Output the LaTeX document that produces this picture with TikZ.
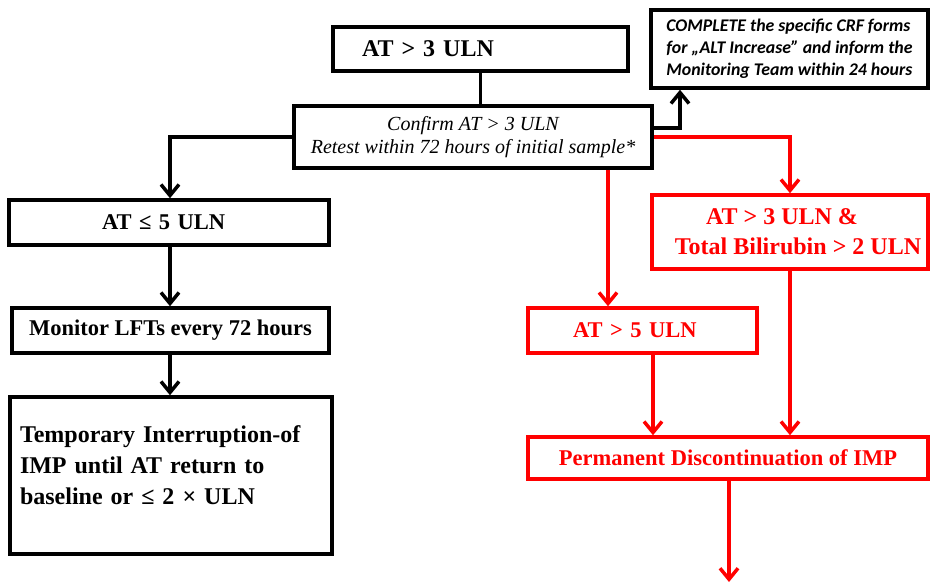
\documentclass[tikz,border=0pt]{standalone}
\usepackage{fontspec}
\setmainfont{Liberation Serif}
\newfontfamily\crffont{Carlito}
\usetikzlibrary{arrows.meta,positioning,calc}
\definecolor{alertred}{RGB}{255,0,0}

\begin{document}
\begin{tikzpicture}[x=1pt, y=-1pt,
    box/.style={draw, line width=3.5pt, inner sep=0pt, minimum height=45pt, align=center,
                font=\fontsize{22.5}{27}\selectfont\bfseries},
    rbox/.style={box, draw=alertred, text=alertred},
    arr/.style={line width=3.5pt, -{Straight Barb[length=11pt,width=18pt]}},
    rarr/.style={arr, draw=alertred},
    link/.style={line width=3.5pt}]
\useasboundingbox (0,0) rectangle (936,582);

% main branch
\node[box, minimum width=295pt, minimum height=44pt, inner xsep=29pt, text width=237pt, align=left,
      font=\fontsize{24}{28}\selectfont\bfseries] (top) at (480.5,49) {AT > 3 ULN};
\node[box, minimum width=358pt, minimum height=62pt,
      font=\fontsize{20}{23}\selectfont\itshape] (confirm) at (473,137)
      {Confirm AT > 3 ULN\\ Retest within 72 hours of initial sample*};
\node[box, minimum width=277pt, minimum height=78pt, align=left,
      font=\fontsize{17.8}{22}\selectfont\crffont\bfseries\itshape] (crf) at (789.5,49)
      {COMPLETE the specific CRF forms\\ for „ALT Increase” and inform the\\ Monitoring Team within 24 hours};

% left (black) path
\node[box, minimum width=320pt, inner xsep=93pt, text width=134pt, align=left] (le5) at (169,222.5) {AT ≤ 5 ULN};
\node[box, minimum width=317pt] (monitor) at (170.5,330.5) {Monitor LFTs every 72 hours};
\node[box, minimum width=322pt, minimum height=157pt, inner xsep=10pt, text width=302pt, align=left,
      font=\fontsize{24}{31}\selectfont\bfseries] (interrupt) at (171,475.5)
      {Temporary Interruption-of\\ IMP until AT return to\\ baseline or ≤ 2 × ULN\\[-10pt]\mbox{}};

% right (red) path
\node[rbox, minimum width=276pt, minimum height=74pt,
      font=\fontsize{24}{30}\selectfont\bfseries] (bili) at (790,232)
      {AT > 3 ULN \&\hspace*{16pt}\\ \hspace*{16pt}Total Bilirubin > 2 ULN};
\node[rbox, minimum width=229pt, inner xsep=45pt, text width=139pt, align=left] (gt5) at (642.5,330.5) {AT > 5 ULN};
\node[rbox, minimum width=400pt, minimum height=42pt] (perm) at (728,458)
      {Permanent Discontinuation of IMP};

\coordinate (leftx) at (170,0);
\coordinate (crfx) at (680,0);
\coordinate (gt5x) at (608,0);
\coordinate (permx) at (653,0);
\coordinate (out) at (729,582);

\draw[link] (top.south) -- (top.south |- confirm.north);
\draw[arr] (confirm.west) -| (leftx |- le5.north);
\draw[arr] ([yshift=9pt]confirm.east) -| (crfx |- crf.south);
\draw[arr] (leftx |- le5.south) -- (leftx |- monitor.north);
\draw[arr] (leftx |- monitor.south) -- (leftx |- interrupt.north);

\draw[rarr] (confirm.east) -| (bili.north);
\draw[rarr] (gt5x |- confirm.south) -- (gt5x |- gt5.north);
\draw[rarr] (permx |- gt5.south) -- (permx |- perm.north);
\draw[rarr] (bili.south) -- (bili.south |- perm.north);
\draw[rarr] (out |- perm.south) -- (out);
\end{tikzpicture}
\end{document}
